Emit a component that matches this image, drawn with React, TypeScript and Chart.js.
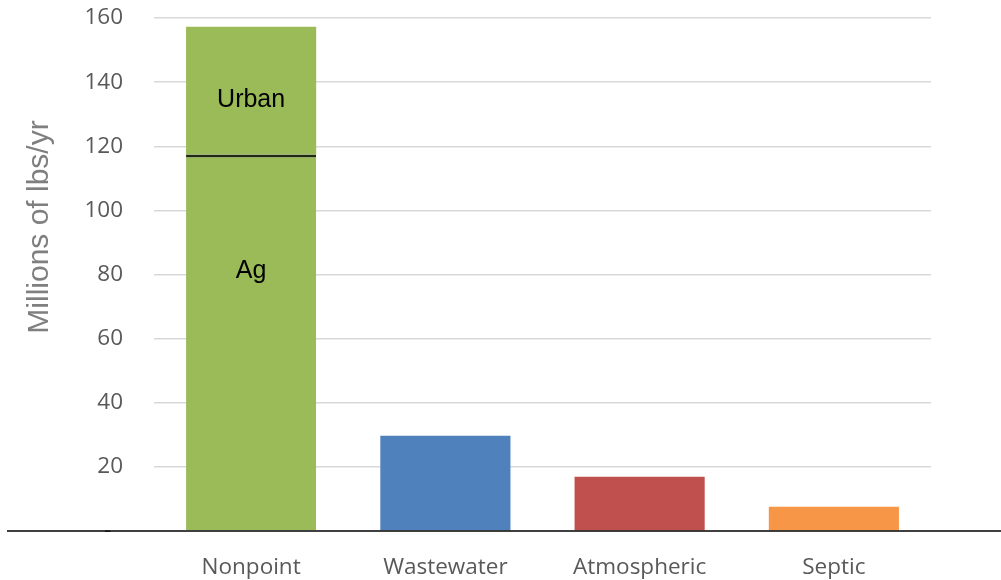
import React, { useEffect, useRef } from "react";
import { Chart, registerables } from "chart.js";

Chart.register(...registerables);

const categories = ["Nonpoint", "Wastewater", "Atmospheric", "Septic"];
const baseValues = [117.4, 29.7, 16.9, 7.6]; // Ag for Nonpoint, totals for others
const urbanValues = [39.9, 0, 0, 0];
const baseColors = ["#9BBB59", "#4F81BD", "#C0504D", "#F79646"];
const urbanColor = "#9BBB59";
const yTicks = [0, 20, 40, 60, 80, 100, 120, 140, 160];
const segmentLabels = ["Urban", "Ag"];
const segmentLabelValues = [134.3, 81.1];
const yTitle = "Millions of lbs/yr";

const TICK_FONT = "'Open Sans', 'Noto Sans', sans-serif";
const ARIAL = "'Liberation Sans', Arial, sans-serif";

const overlayPlugin = {
  id: "overlay",
  afterDatasetsDraw(chart: any) {
    const ctx = chart.ctx;
    const y = chart.scales.y;
    const x = chart.scales.x;
    const y0 = y.getPixelForValue(0);
    ctx.save();
    ctx.strokeStyle = "#000";
    ctx.lineWidth = 1.5;
    ctx.beginPath();
    ctx.moveTo(7, y0);
    ctx.lineTo(chart.width, y0);
    ctx.stroke();
    ctx.fillStyle = "#000";
    ctx.font = `25px ${ARIAL}`;
    ctx.textAlign = "center";
    ctx.textBaseline = "middle";
    const cx = x.getPixelForValue(0);
    segmentLabels.forEach((t, i) => {
      ctx.fillText(t, cx, y.getPixelForValue(segmentLabelValues[i]));
    });
    ctx.translate(40, 227);
    ctx.rotate(-Math.PI / 2);
    ctx.fillStyle = "#7F7F7F";
    ctx.font = `30px ${ARIAL}`;
    ctx.fillText(yTitle, 0, 0);
    ctx.restore();
  },
};

export default function App() {
  const ref = useRef<HTMLCanvasElement>(null);
  useEffect(() => {
    if (!ref.current) return;
    const chart = new Chart(ref.current, {
      type: "bar",
      data: {
        labels: categories,
        datasets: [
          {
            label: "Base",
            data: baseValues,
            backgroundColor: baseColors,
            borderColor: "#1f2a10",
            borderWidth: (c: any) =>
              c.dataIndex === 0 ? { top: 3, left: 0, right: 0, bottom: 0 } : 0,
            borderSkipped: false,
            categoryPercentage: 1,
            barPercentage: 0.67,
          },
          {
            label: "Urban",
            data: urbanValues,
            backgroundColor: urbanColor,
            borderWidth: 0,
            categoryPercentage: 1,
            barPercentage: 0.67,
          },
        ],
      },
      options: {
        responsive: false,
        animation: false,
        layout: { padding: { left: 0, right: 70, top: 18, bottom: 0 } },
        plugins: { legend: { display: false }, tooltip: { enabled: false } },
        scales: {
          x: {
            stacked: true,
            grid: { display: false },
            border: { display: false },
            ticks: {
              color: "#595959",
              font: { family: TICK_FONT, size: 22.5 },
              padding: 15,
            },
            afterFit: (s: any) => {
              s.height = 49;
              s.paddingLeft = 0;
              s.paddingRight = 0;
            },
          },
          y: {
            stacked: true,
            min: 0,
            max: 160,
            afterBuildTicks: (s: any) => {
              s.ticks = yTicks.map((v) => ({ value: v }));
            },
            grid: {
              color: (c: any) => (c.tick && c.tick.value === 0 ? "rgba(0,0,0,0)" : "#D9D9D9"),
              lineWidth: 1.5,
              drawTicks: false,
            },
            border: { display: false },
            ticks: {
              color: "#595959",
              font: { family: TICK_FONT, size: 22.5 },
              padding: 31,
              callback: (v: any) => (v === 0 ? "-  " : String(v)),
            },
            afterFit: (s: any) => {
              s.width = 154;
              s.paddingTop = 0;
              s.paddingBottom = 0;
            },
          },
        },
      },
      plugins: [overlayPlugin],
    });
    return () => chart.destroy();
  }, []);
  return (
    <div style={{ position: "absolute", left: 0, top: 0, width: 1001, height: 580, background: "#fff" }}>
      <canvas ref={ref} width={1001} height={580} />
    </div>
  );
}
